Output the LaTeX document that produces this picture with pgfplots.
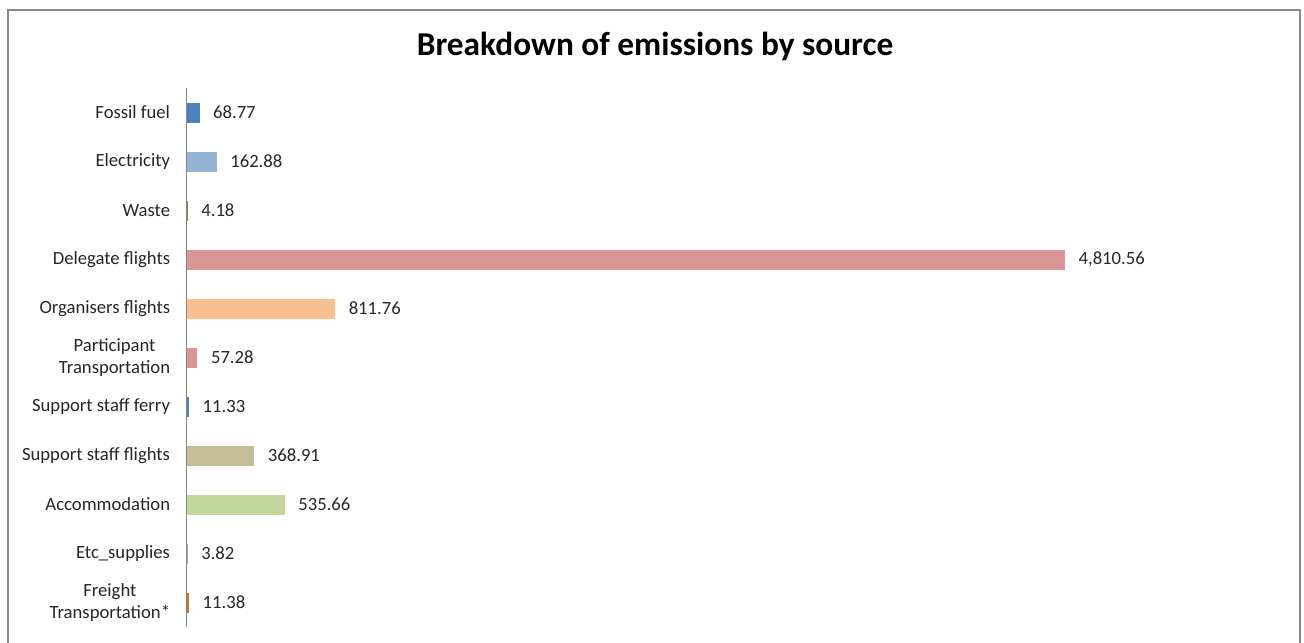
\documentclass[border=0pt]{standalone}
\usepackage{pgfplots}
\pgfplotsset{compat=1.18}
\usepackage{fontspec}
\setmainfont{Carlito}
\definecolor{cA}{HTML}{4F81BD}
\definecolor{cB}{HTML}{95B3D7}
\definecolor{cC}{HTML}{77933C}
\definecolor{cD}{HTML}{D99694}
\definecolor{cE}{HTML}{FAC090}
\definecolor{cF}{HTML}{D99694}
\definecolor{cG}{HTML}{4F81BD}
\definecolor{cH}{HTML}{C4BD97}
\definecolor{cI}{HTML}{C3D69B}
\definecolor{cJ}{HTML}{B3A2C7}
\definecolor{cK}{HTML}{E46C0A}
\definecolor{frame}{HTML}{898989}
\definecolor{axisgray}{HTML}{868686}
\begin{document}
\begin{tikzpicture}
\clip (0,0) rectangle (978pt,482.25pt);
\draw[frame, line width=1.1pt] (6pt,474.75pt) rectangle (975pt,-10pt);
\node[font=\fontsize{25}{30}\selectfont\bfseries] at (491.25pt,447.2pt) {Breakdown of emissions by source};
\begin{axis}[
  at={(140.25pt,12pt)}, anchor=south west,
  scale only axis, width=797.25pt, height=404.25pt,
  xbar, bar shift=0pt, bar width=15pt,
  xmin=0, xmax=5824, ymin=-0.5, ymax=10.5, y dir=reverse,
  axis x line=none, axis y line*=left,
  y axis line style={axisgray, line width=0.75pt},
  ytick={0,...,10}, major tick length=0pt,
  yticklabels={Fossil fuel, Electricity, Waste, Delegate flights, Organisers flights, {Participant\\Transportation}, Support staff ferry, Support staff flights, Accommodation, Etc\_supplies, {Freight\\Transportation*}},
  yticklabel style={font=\fontsize{14}{16.5}\selectfont, align=center, inner sep=0pt, xshift=-12.5pt, text=black!85},
  point meta=explicit symbolic,
  nodes near coords,
  nodes near coords style={font=\fontsize{14}{16.5}\selectfont, anchor=west, inner sep=0pt, xshift=10pt, text=black!85},
  clip=false,
]
\addplot[fill=cA, draw=none] coordinates {(68.77,0) [68.77]};
\addplot[fill=cB, draw=none] coordinates {(162.88,1) [162.88]};
\addplot[fill=cC, draw=none] coordinates {(4.18,2) [4.18]};
\addplot[fill=cD, draw=none] coordinates {(4810.56,3) [{4,810.56}]};
\addplot[fill=cE, draw=none] coordinates {(811.76,4) [811.76]};
\addplot[fill=cF, draw=none] coordinates {(57.28,5) [57.28]};
\addplot[fill=cG, draw=none] coordinates {(11.33,6) [11.33]};
\addplot[fill=cH, draw=none] coordinates {(368.91,7) [368.91]};
\addplot[fill=cI, draw=none] coordinates {(535.66,8) [535.66]};
\addplot[fill=cJ, draw=none] coordinates {(3.82,9) [3.82]};
\addplot[fill=cK, draw=none] coordinates {(11.38,10) [11.38]};
\end{axis}
\end{tikzpicture}
\end{document}
